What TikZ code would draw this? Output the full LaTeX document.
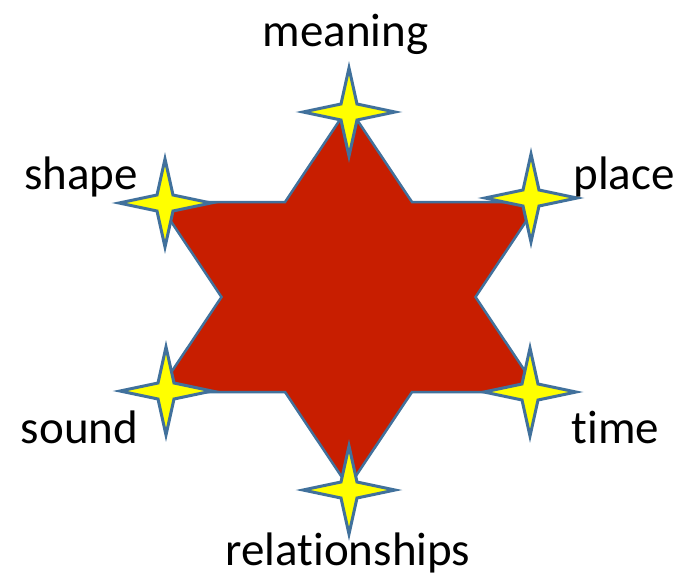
\documentclass[tikz,border=0pt]{standalone}
\usepackage{fontspec}
\setmainfont[Ligatures=CommonOff]{Carlito}
\definecolor{starred}{RGB}{200,30,0}
\definecolor{edgeblue}{RGB}{65,113,156}
\definecolor{sparkyellow}{RGB}{255,255,0}
\tikzset{
  bigstar/.style={fill=starred, draw=edgeblue, line width=2.5pt, line join=miter},
  sparkle/.pic={
    \path[fill=sparkyellow, draw=edgeblue, line width=3pt, line join=miter, miter limit=20]
      (46,0) -- (8,-8) -- (0,-44) -- (-8,-8) -- (-46,0) -- (-8,8) -- (0,44) -- (8,8) -- cycle;
  },
  lbl/.style={anchor=base, inner sep=0pt, font=\fontsize{47}{56}\selectfont, text=black}
}
\begin{document}
\begin{tikzpicture}[x=1pt, y=-1pt]
\useasboundingbox (0,0) rectangle (687,581);
% big hexagram
\coordinate (c) at (348.5,297);
\draw[bigstar]
  (348.5,107) -- (412,202) -- (539,202) -- (475.5,297) -- (539,392) -- (412,392)
  -- (348.5,487) -- (285,392) -- (158,392) -- (221.5,297) -- (158,202) -- (285,202) -- cycle;
% sparkles
\pic at (349,112) {sparkle};
\pic at (165,203) {sparkle};
\pic at (531,198) {sparkle};
\pic at (166,391) {sparkle};
\pic at (530,392) {sparkle};
\pic at (349,490) {sparkle};
% labels
\node[lbl] (meaning) at (345.5,46) {meaning};
\node[lbl] (shape) at (81,189) {shape};
\node[lbl] (place) at (624,189) {place};
\node[lbl] (sound) at (79.5,443) {sound};
\node[lbl] (time) at (615.5,443) {time};
\node[lbl] (rel) at (348,565) {relationships};
\end{tikzpicture}
\end{document}
